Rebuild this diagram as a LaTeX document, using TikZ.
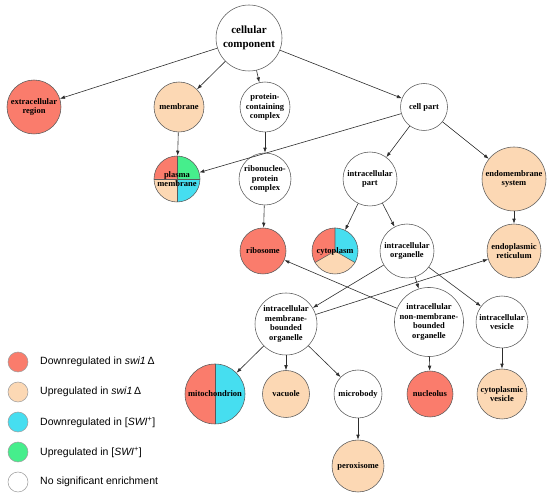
\documentclass[tikz,border=0pt]{standalone}
\usepackage{fontspec}
\setmainfont{Liberation Serif}
\newfontfamily\legfont{Liberation Sans}
\usetikzlibrary{arrows.meta,backgrounds}
\definecolor{dnswi}{RGB}{250,124,108}
\definecolor{upswi}{RGB}{252,216,180}
\definecolor{dnpsi}{RGB}{70,222,240}
\definecolor{uppsi}{RGB}{70,238,140}
\definecolor{rim}{RGB}{90,90,90}
\definecolor{ink}{RGB}{45,45,45}
\tikzset{
  >={Latex[length=5pt,width=3.6pt]},
  term/.style={circle,draw=rim,line width=0.55pt,fill=#1,minimum size=48pt,inner sep=0pt,
    align=center,font=\fontsize{8.5}{9.7}\selectfont\bfseries},
  term/.default=white,
  isa/.style={->,draw=ink,line width=0.6pt},
  keydot/.style={circle,draw=rim!60,line width=0.5pt,fill=#1,minimum size=20pt,inner sep=0pt},
  keytext/.style={anchor=west,font=\legfont\fontsize{10.5}{12}\selectfont,inner sep=0pt},
}
\begin{document}
\begin{tikzpicture}[x=1pt,y=1pt]
  \useasboundingbox (0,0) rectangle (550,-497);
  % terms
  \node[term,minimum size=66pt,font=\fontsize{11}{14}\selectfont\bfseries] (cc) at (249,-38) {cellular\\component};
  \node[term=dnswi,minimum size=54pt] (ext) at (34,-107) {extracellular\\region};
  \node[term=upswi,minimum size=50pt] (mem) at (179,-107) {membrane};
  \node[term,minimum size=50pt] (pcc) at (265,-107) {protein-\\containing\\complex};
  \node[term,minimum size=47pt] (cp) at (424,-107) {cell part};
  \node[term=none,minimum size=46pt] (pm) at (177,-179) {plasma\\membrane};
  \node[term,minimum size=52pt] (rnp) at (265,-179) {ribonucleo-\\protein\\complex};
  \node[term,minimum size=54pt] (ip) at (370,-179) {intracellular\\part};
  \node[term=upswi,minimum size=64pt] (ems) at (514,-179) {endomembrane\\system};
  \node[term=dnswi,minimum size=46pt] (rib) at (263,-251) {ribosome};
  \node[term=none,minimum size=46pt] (cyt) at (335,-251) {cytoplasm};
  \node[term,minimum size=54pt] (io) at (407,-251) {intracellular\\organelle};
  \node[term=upswi,minimum size=54pt] (er) at (514,-251) {endoplasmic\\reticulum};
  \node[term,minimum size=62pt] (imbo) at (286,-324) {intracellular\\membrane-\\bounded\\organelle};
  \node[term,minimum size=66pt] (inmbo) at (429,-322) {intracellular\\non-membrane-\\bounded\\organelle};
  \node[term,minimum size=52pt] (iv) at (502,-322) {intracellular\\vesicle};
  \node[term=none,minimum size=60pt] (mito) at (215,-394) {mitochondrion};
  \node[term=upswi,minimum size=47pt] (vac) at (286,-394) {vacuole};
  \node[term,minimum size=48pt] (mb) at (358,-394) {microbody};
  \node[term=dnswi,minimum size=46pt] (nuc) at (430,-394) {nucleolus};
  \node[term=upswi,minimum size=50pt] (cv) at (502,-394) {cytoplasmic\\vesicle};
  \node[term=upswi,minimum size=52pt] (per) at (358,-466) {peroxisome};
  % split fills
  \begin{scope}[on background layer]
    \fill[dnswi] (pm.center) -- +(90:23) arc[start angle=90,end angle=180,radius=23] -- cycle;
    \fill[uppsi] (pm.center) -- +(0:23) arc[start angle=0,end angle=90,radius=23] -- cycle;
    \fill[upswi] (pm.center) -- +(180:23) arc[start angle=180,end angle=270,radius=23] -- cycle;
    \fill[dnpsi] (pm.center) -- +(270:23) arc[start angle=270,end angle=360,radius=23] -- cycle;
    \draw[rim,line width=0.55pt] (pm.north) -- (pm.south) (pm.west) -- (pm.east);
    \fill[dnswi] (cyt.center) -- +(90:23) arc[start angle=90,end angle=210,radius=23] -- cycle;
    \fill[upswi] (cyt.center) -- +(210:23) arc[start angle=210,end angle=330,radius=23] -- cycle;
    \fill[dnpsi] (cyt.center) -- +(330:23) arc[start angle=-30,end angle=90,radius=23] -- cycle;
    \draw[rim,line width=0.55pt] (cyt.center) -- (cyt.90) (cyt.center) -- (cyt.210) (cyt.center) -- (cyt.330);
    \fill[dnswi] (mito.center) -- +(90:30) arc[start angle=90,end angle=270,radius=30] -- cycle;
    \fill[dnpsi] (mito.center) -- +(270:30) arc[start angle=-90,end angle=90,radius=30] -- cycle;
    \draw[rim,line width=0.55pt] (mito.north) -- (mito.south);
  \end{scope}
  % is-a links
  \foreach \a/\b in {cc/ext,cc/mem,cc/pcc,cc/cp,mem/pm,cp/pm,pcc/rnp,cp/ip,cp/ems,
    rnp/rib,ip/cyt,ip/io,ems/er,io/imbo,io/inmbo,io/iv,imbo/er,inmbo/rib,
    imbo/mito,imbo/vac,imbo/mb,inmbo/nuc,iv/cv,mb/per}
    \draw[isa] (\a) -- (\b);
  % legend
  \foreach \c/\t [count=\i] in {dnswi/{Downregulated in \textit{swi1}\,Δ},
    upswi/{Upregulated in \textit{swi1}\,Δ},
    dnpsi/{Downregulated in [\textit{SWI}\textsuperscript{+}]},
    uppsi/{Upregulated in [\textit{SWI}\textsuperscript{+}]},
    white/{No significant enrichment}}{
    \node[keydot=\c] (k\i) at (18,-332-30*\i) {};
    \node[keytext] (t\i) at (40,-332-30*\i) {\t};
  }
\end{tikzpicture}
\end{document}
